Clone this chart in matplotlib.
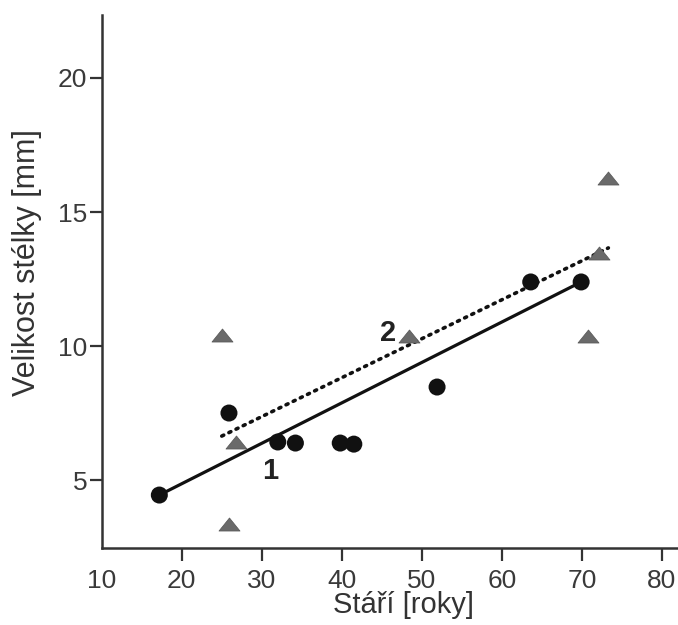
import numpy as np
import matplotlib.pyplot as plt
from matplotlib.path import Path

plt.rcParams['font.family'] = ['Liberation Sans', 'DejaVu Sans']

# data
circle_age = [17.2, 25.9, 32.0, 34.2, 39.8, 41.5, 51.9, 63.6, 69.9]
circle_size = [4.44, 7.50, 6.42, 6.38, 6.38, 6.34, 8.47, 12.39, 12.39]

tri_age = [25.0, 26.8, 25.9, 48.4, 70.8, 72.1, 73.2]
tri_size = [10.41, 6.42, 3.36, 10.37, 10.37, 13.47, 16.27]

line1_age = [17.2, 69.9]
line1_size = [4.44, 12.39]
line2_age = [25.0, 73.3]
line2_size = [6.64, 13.66]

xticks = [10, 20, 30, 40, 50, 60, 70, 80]
yticks = [5, 10, 15, 20]

# flatter triangle than the default '^'
tri = Path([(-1, -0.62), (1, -0.62), (0, 0.62), (-1, -0.62)],
           [Path.MOVETO, Path.LINETO, Path.LINETO, Path.CLOSEPOLY])

fig = plt.figure(figsize=(6.78, 6.25), dpi=100)
ax = fig.add_axes([0.150, 0.123, 0.85, 0.853])

ax.plot(line1_age, line1_size, color='#111111', lw=2.3, solid_capstyle='round', zorder=2)
ax.plot(line2_age, line2_size, color='#111111', lw=2.6, linestyle=(0, (0.6, 1.6)),
        dash_capstyle='round', zorder=2)

ax.scatter(tri_age, tri_size, marker=tri, s=230, color='#6a6a6a', edgecolors='#555555',
           linewidths=0.5, zorder=3)
ax.scatter(circle_age, circle_size, marker='o', s=150, color='#111111', edgecolors='none', zorder=4)

ax.text(31.0, 5.35, '1', fontsize=21, fontweight='bold', color='#222222', ha='center', va='center')
ax.text(45.8, 10.5, '2', fontsize=21, fontweight='bold', color='#222222', ha='center', va='center')

ax.set_xlim(10, 82)
ax.set_ylim(2.46, 22.35)
ax.set_xticks(xticks)
ax.set_yticks(yticks)

for s in ['top', 'right']:
    ax.spines[s].set_visible(False)
for s in ['left', 'bottom']:
    ax.spines[s].set_linewidth(1.8)
    ax.spines[s].set_color('#333333')

ax.tick_params(axis='both', length=9, width=1.6, color='#333333', labelsize=19, labelcolor='#3a3a3a')
ax.tick_params(axis='x', pad=6)
ax.tick_params(axis='y', pad=1.5)
ax.xaxis.get_major_ticks()[0].tick1line.set_visible(False)

ax.set_xlabel('Stáří [roky]', fontsize=21, color='#333333')
ax.set_ylabel('Velikost stélky [mm]', fontsize=22, color='#333333')
ax.xaxis.set_label_coords(0.523, -0.081)
ax.yaxis.set_label_coords(-0.104, 0.535)

fig.savefig('out.png', dpi=100)
